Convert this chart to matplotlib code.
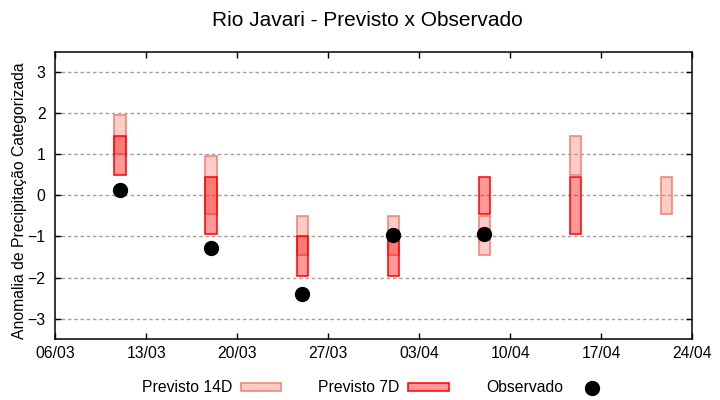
import datetime as dt
import matplotlib
matplotlib.use('Agg')
import matplotlib.pyplot as plt
import matplotlib.dates as mdates
from matplotlib.patches import Patch
from matplotlib.lines import Line2D

plt.rcParams['font.family'] = ['Liberation Sans', 'DejaVu Sans']

# semanas (data central de cada caixa)
datas = ['11/03', '18/03', '25/03', '01/04', '08/04', '15/04', '22/04']
# previsao 14 dias: limite inferior / superior
p14_inf = [1.0, -0.45, -1.45, -1.45, -1.45, 0.5, -0.45]
p14_sup = [1.95, 0.95, -0.5, -0.5, -0.5, 1.45, 0.45]
# previsao 7 dias
p7_inf = [0.5, -0.95, -1.95, -1.95, -0.45, -0.95, None]
p7_sup = [1.45, 0.45, -1.0, -1.0, 0.45, 0.45, None]
# observado
obs = [0.13, -1.28, -2.41, -0.97, -0.95, None, None]

ano = 2024
def conv(s):
    d, m = s.split('/')
    return mdates.date2num(dt.datetime(ano, int(m), int(d)))

x = [conv(s) for s in datas]

fig = plt.figure(figsize=(7.2, 4.0), dpi=100)
ax = fig.add_axes([0.0768, 0.152, 0.885, 0.719])

ax.yaxis.grid(True, color='#a0a0a0', linestyle=(0, (2.5, 2)), linewidth=1.0)
ax.set_axisbelow(True)

i14 = [i for i in range(len(x)) if p14_inf[i] is not None]
ax.bar([x[i] for i in i14], [p14_sup[i] - p14_inf[i] for i in i14],
       bottom=[p14_inf[i] for i in i14], width=0.9,
       color=(250/255, 128/255, 114/255, 0.4), edgecolor='#f08070', linewidth=1.1, zorder=2)

i7 = [i for i in range(len(x)) if p7_inf[i] is not None]
ax.bar([x[i] for i in i7], [p7_sup[i] - p7_inf[i] for i in i7],
       bottom=[p7_inf[i] for i in i7], width=0.9,
       color=(1, 0, 0, 0.4), edgecolor='#ff0000', linewidth=1.1, zorder=3)

io = [i for i in range(len(x)) if obs[i] is not None]
ax.plot([x[i] for i in io], [obs[i] for i in io], 'o', color='black',
        markersize=10, zorder=4, linestyle='none')

ax.set_ylim(-3.5, 3.5)
ax.set_yticks([-3, -2, -1, 0, 1, 2, 3])
ax.set_xlim(conv('06/03'), conv('24/04'))
ax.set_xticks([conv(s) for s in ['06/03', '13/03', '20/03', '27/03', '03/04', '10/04', '17/04', '24/04']])
ax.xaxis.set_major_formatter(mdates.DateFormatter('%d/%m'))

ax.tick_params(direction='in', top=True, right=True, length=4, width=1,
               labelsize=11.3, colors='black')
ax.tick_params(axis='y', pad=7)
ax.tick_params(axis='x', pad=5)
for s in ax.spines.values():
    s.set_linewidth(1.1)

fig.text(367 / 720, 1 - 20 / 400, 'Rio Javari - Previsto x Observado',
         ha='center', va='center', fontsize=15)
fig.text(20 / 720, 1 - 201 / 400, 'Anomalia de Precipitação Categorizada',
         ha='center', va='center', rotation=90, fontsize=11.3)

handles = [
    Patch(facecolor=(250/255, 128/255, 114/255, 0.4), edgecolor='#f08070', linewidth=1.1),
    Patch(facecolor=(1, 0, 0, 0.4), edgecolor='#ff0000', linewidth=1.1),
    Line2D([], [], marker='o', color='black', linestyle='none', markersize=10),
]
fig.legend(handles, ['Previsto 14D', 'Previsto 7D', 'Observado'],
           loc='center', bbox_to_anchor=(377 / 720, 1 - 388 / 400), ncol=3,
           frameon=False, markerfirst=False, fontsize=11.3,
           handlelength=2.6, handleheight=0.35, handletextpad=0.55,
           columnspacing=2.35)

fig.savefig('out.png', dpi=100)
